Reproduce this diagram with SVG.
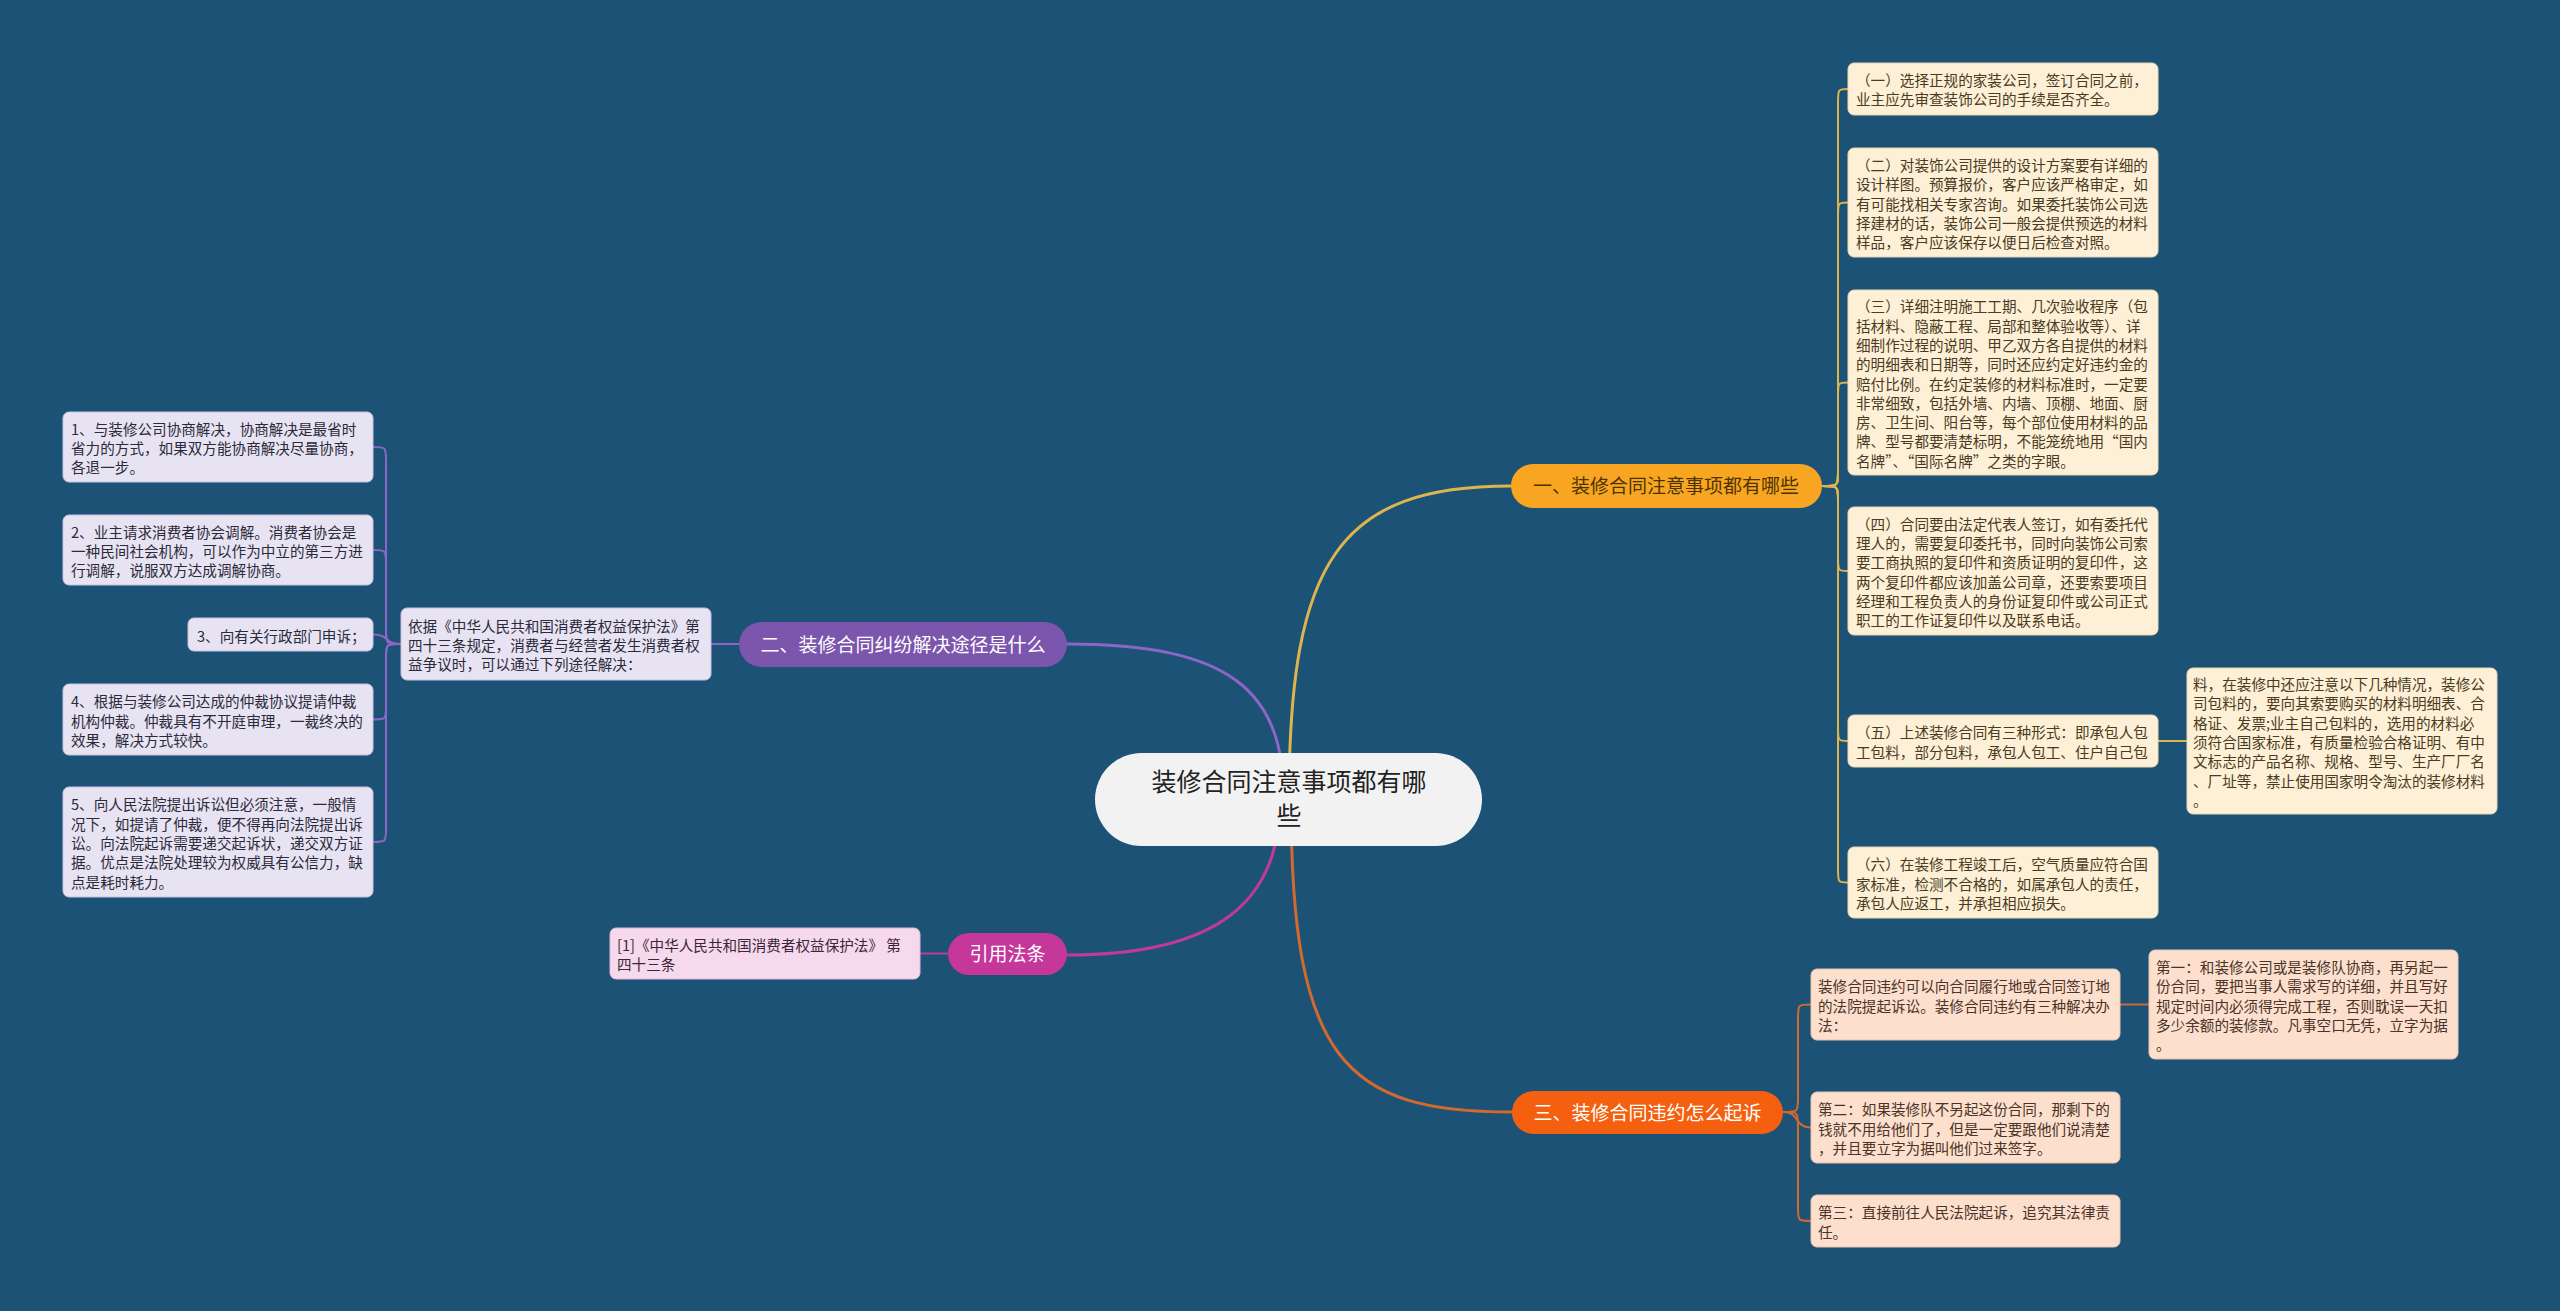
<svg xmlns="http://www.w3.org/2000/svg" width="2560" height="1311" viewBox="0 0 2560 1311">
<style>
text{font-family:"Noto Sans CJK SC","Noto Sans",sans-serif;}
.bt{font-size:14.6px;}
.yb{fill:#fdf0d6;stroke:#e8d6ad;stroke-width:1;}
.yt{fill:#4a3a1f;}
.pb{fill:#fcdfcd;stroke:#ecc3ad;stroke-width:1;}
.pt{fill:#4a3328;}
.lb{fill:#e7e3f3;stroke:#c9c1e0;stroke-width:1;}
.lt{fill:#2b2a3a;}
.kb{fill:#f6d9ec;stroke:#e2b8d4;stroke-width:1;}
.kt{fill:#3b2638;}
.br{font-size:19px;text-anchor:middle;}
.c{fill:none;stroke-linecap:round;}
.cy{stroke:#dcb54f;}
.cp{stroke:#8c66c6;}
.ck{stroke:#c23a98;}
.co{stroke:#d2692f;}
.m{stroke-width:3;}
.s{stroke-width:2;}
</style>
<rect x="0" y="0" width="2560" height="1311" fill="#1b5275"/>

<g id="connectors">
<path class="c cy m" d="M 1289 800 C 1289 560, 1340 486, 1511 486"/>
<path class="c cp m" d="M 1284 800 C 1284 690, 1230 644, 1066 644"/>
<path class="c ck m" d="M 1280 800 C 1280 900, 1220 955, 1067 955"/>
<path class="c co m" d="M 1291 800 C 1291 1060, 1345 1112, 1512 1112"/>

<path class="c cy s" d="M 1822 486 C 1838 486 1838 486 1838 472 L 1838 103 C 1838 89 1838 89 1848 89"/>
<path class="c cy s" d="M 1822 486 C 1838 486 1838 486 1838 472 L 1838 216.5 C 1838 202.5 1838 202.5 1848 202.5"/>
<path class="c cy s" d="M 1822 486 C 1838 486 1838 486 1838 472 L 1838 396.5 C 1838 382.5 1838 382.5 1848 382.5"/>
<path class="c cy s" d="M 1822 486 C 1838 486 1838 486 1838 500 L 1838 557 C 1838 571 1838 571 1848 571"/>
<path class="c cy s" d="M 1822 486 C 1838 486 1838 486 1838 500 L 1838 727 C 1838 741 1838 741 1848 741"/>
<path class="c cy s" d="M 1822 486 C 1838 486 1838 486 1838 500 L 1838 868.5 C 1838 882.5 1838 882.5 1848 882.5"/>
<path class="c cy s" d="M 2158 741 L 2187 741"/>

<path class="c co s" d="M 1783 1112 C 1798 1112 1798 1112 1798 1098 L 1798 1018.5 C 1798 1004.5 1798 1004.5 1811 1004.5"/>
<path class="c co s" d="M 1783 1112 C 1800 1112, 1794 1127.5, 1811 1127.5"/>
<path class="c co s" d="M 1783 1112 C 1798 1112 1798 1112 1798 1126 L 1798 1207 C 1798 1221 1798 1221 1811 1221"/>
<path class="c co s" d="M 2120 1004.5 L 2149 1004.5"/>

<path class="c cp s" d="M 401 644 C 386 644 386 644 386 630 L 386 461 C 386 447 386 447 373 447"/>
<path class="c cp s" d="M 401 644 C 386 644 386 644 386 630 L 386 564 C 386 550 386 550 373 550"/>
<path class="c cp s" d="M 401 644 C 384 644, 390 634.5, 373 634.5"/>
<path class="c cp s" d="M 401 644 C 386 644 386 644 386 658 L 386 705.5 C 386 719.5 386 719.5 373 719.5"/>
<path class="c cp s" d="M 401 644 C 386 644 386 644 386 658 L 386 828 C 386 842 386 842 373 842"/>
<path class="c cp s" d="M 711 644 L 739 644"/>

<path class="c ck s" d="M 920 953.5 L 948 953.5"/>
</g>

<g id="center">
<rect x="1095" y="753" width="387" height="93" rx="46.5" fill="#f2f2f2"/>
<text x="1289" y="791" font-size="25" text-anchor="middle" fill="#222">装修合同注意事项都有哪</text>
<text x="1289" y="825" font-size="25" text-anchor="middle" fill="#222">些</text>
</g>

<g id="branch1">
<rect x="1511" y="464" width="311" height="44" rx="22" fill="#f8a621"/>
<text class="br" x="1666" y="493" fill="#4d3300">一、装修合同注意事项都有哪些</text>
</g>
<g id="branch2">
<rect x="739" y="622" width="328" height="45" rx="22.5" fill="#7c55ad"/>
<text class="br" x="903" y="651.5" fill="#ffffff">二、装修合同纠纷解决途径是什么</text>
</g>
<g id="branch-cite">
<rect x="948" y="933" width="119" height="42" rx="21" fill="#c5389a"/>
<text class="br" x="1007.5" y="961" fill="#ffffff">引用法条</text>
</g>
<g id="branch3">
<rect x="1512" y="1091" width="271" height="43" rx="21.5" fill="#f4600f"/>
<text class="br" x="1647.5" y="1119.5" fill="#ffffff">三、装修合同违约怎么起诉</text>
</g>

<g id="n1-1">
<rect class="yb" x="1848" y="63" width="310" height="52" rx="6"/>
<text class="bt yt" x="1856"><tspan x="1856" y="86">（一）选择正规的家装公司，签订合同之前，</tspan><tspan x="1856" y="105.3">业主应先审查装饰公司的手续是否齐全。</tspan></text>
</g>
<g id="n1-2">
<rect class="yb" x="1848" y="148" width="310" height="109" rx="6"/>
<text class="bt yt"><tspan x="1856" y="171">（二）对装饰公司提供的设计方案要有详细的</tspan><tspan x="1856" y="190.3">设计样图。预算报价，客户应该严格审定，如</tspan><tspan x="1856" y="209.6">有可能找相关专家咨询。如果委托装饰公司选</tspan><tspan x="1856" y="228.9">择建材的话，装饰公司一般会提供预选的材料</tspan><tspan x="1856" y="248.2">样品，客户应该保存以便日后检查对照。</tspan></text>
</g>
<g id="n1-3">
<rect class="yb" x="1848" y="290" width="310" height="185" rx="6"/>
<text class="bt yt"><tspan x="1856" y="312.3">（三）详细注明施工工期、几次验收程序（包</tspan><tspan x="1856" y="331.6">括材料、隐蔽工程、局部和整体验收等）、详</tspan><tspan x="1856" y="350.9">细制作过程的说明、甲乙双方各自提供的材料</tspan><tspan x="1856" y="370.2">的明细表和日期等，同时还应约定好违约金的</tspan><tspan x="1856" y="389.5">赔付比例。在约定装修的材料标准时，一定要</tspan><tspan x="1856" y="408.8">非常细致，包括外墙、内墙、顶棚、地面、厨</tspan><tspan x="1856" y="428.1">房、卫生间、阳台等，每个部位使用材料的品</tspan><tspan x="1856" y="447.4">牌、型号都要清楚标明，不能笼统地用“国内</tspan><tspan x="1856" y="466.7">名牌”、“国际名牌”之类的字眼。</tspan></text>
</g>
<g id="n1-4">
<rect class="yb" x="1848" y="507" width="310" height="128" rx="6"/>
<text class="bt yt"><tspan x="1856" y="529.8">（四）合同要由法定代表人签订，如有委托代</tspan><tspan x="1856" y="549.1">理人的，需要复印委托书，同时向装饰公司索</tspan><tspan x="1856" y="568.4">要工商执照的复印件和资质证明的复印件，这</tspan><tspan x="1856" y="587.7">两个复印件都应该加盖公司章，还要索要项目</tspan><tspan x="1856" y="607">经理和工程负责人的身份证复印件或公司正式</tspan><tspan x="1856" y="626.3">职工的工作证复印件以及联系电话。</tspan></text>
</g>
<g id="n1-5">
<rect class="yb" x="1848" y="715" width="310" height="52" rx="6"/>
<text class="bt yt"><tspan x="1856" y="738.4">（五）上述装修合同有三种形式：即承包人包</tspan><tspan x="1856" y="757.7">工包料，部分包料，承包人包工、住户自己包</tspan></text>
</g>
<g id="n1-5-1">
<rect class="yb" x="2187" y="668" width="310" height="146" rx="6"/>
<text class="bt yt"><tspan x="2193" y="690">料，在装修中还应注意以下几种情况，装修公</tspan><tspan x="2193" y="709.3">司包料的，要向其索要购买的材料明细表、合</tspan><tspan x="2193" y="728.6">格证、发票;业主自己包料的，选用的材料必</tspan><tspan x="2193" y="747.9">须符合国家标准，有质量检验合格证明、有中</tspan><tspan x="2193" y="767.2">文标志的产品名称、规格、型号、生产厂厂名</tspan><tspan x="2193" y="786.5">、厂址等，禁止使用国家明令淘汰的装修材料</tspan><tspan x="2193" y="805.8">。</tspan></text>
</g>
<g id="n1-6">
<rect class="yb" x="1848" y="847" width="310" height="71" rx="6"/>
<text class="bt yt"><tspan x="1856" y="870.2">（六）在装修工程竣工后，空气质量应符合国</tspan><tspan x="1856" y="889.5">家标准，检测不合格的，如属承包人的责任，</tspan><tspan x="1856" y="908.8">承包人应返工，并承担相应损失。</tspan></text>
</g>

<g id="n3-1">
<rect class="pb" x="1811" y="969" width="309" height="71" rx="6"/>
<text class="bt pt"><tspan x="1818" y="992.2">装修合同违约可以向合同履行地或合同签订地</tspan><tspan x="1818" y="1011.5">的法院提起诉讼。装修合同违约有三种解决办</tspan><tspan x="1818" y="1030.8">法：</tspan></text>
</g>
<g id="n3-1-1">
<rect class="pb" x="2149" y="950" width="309" height="109" rx="6"/>
<text class="bt pt"><tspan x="2156" y="973">第一：和装修公司或是装修队协商，再另起一</tspan><tspan x="2156" y="992.3">份合同，要把当事人需求写的详细，并且写好</tspan><tspan x="2156" y="1011.6">规定时间内必须得完成工程，否则耽误一天扣</tspan><tspan x="2156" y="1030.9">多少余额的装修款。凡事空口无凭，立字为据</tspan><tspan x="2156" y="1050.2">。</tspan></text>
</g>
<g id="n3-2">
<rect class="pb" x="1811" y="1092" width="309" height="71" rx="6"/>
<text class="bt pt"><tspan x="1818" y="1115.2">第二：如果装修队不另起这份合同，那剩下的</tspan><tspan x="1818" y="1134.5">钱就不用给他们了，但是一定要跟他们说清楚</tspan><tspan x="1818" y="1153.8">，并且要立字为据叫他们过来签字。</tspan></text>
</g>
<g id="n3-3">
<rect class="pb" x="1811" y="1195" width="309" height="52" rx="6"/>
<text class="bt pt"><tspan x="1818" y="1218.4">第三：直接前往人民法院起诉，追究其法律责</tspan><tspan x="1818" y="1237.7">任。</tspan></text>
</g>

<g id="n2-1">
<rect class="lb" x="401" y="608" width="310" height="72" rx="6"/>
<text class="bt lt"><tspan x="408" y="631.7">依据《中华人民共和国消费者权益保护法》第</tspan><tspan x="408" y="651">四十三条规定，消费者与经营者发生消费者权</tspan><tspan x="408" y="670.3">益争议时，可以通过下列途径解决：</tspan></text>
</g>
<g id="n2-1-1">
<rect class="lb" x="63" y="412" width="310" height="70" rx="6"/>
<text class="bt lt"><tspan x="71" y="434.7">1、与装修公司协商解决，协商解决是最省时</tspan><tspan x="71" y="454">省力的方式，如果双方能协商解决尽量协商，</tspan><tspan x="71" y="473.3">各退一步。</tspan></text>
</g>
<g id="n2-1-2">
<rect class="lb" x="63" y="515" width="310" height="70" rx="6"/>
<text class="bt lt"><tspan x="71" y="537.7">2、业主请求消费者协会调解。消费者协会是</tspan><tspan x="71" y="557">一种民间社会机构，可以作为中立的第三方进</tspan><tspan x="71" y="576.3">行调解，说服双方达成调解协商。</tspan></text>
</g>
<g id="n2-1-3">
<rect class="lb" x="188" y="618" width="185" height="33" rx="6"/>
<text class="bt lt" x="197" y="641.5">3、向有关行政部门申诉；</text>
</g>
<g id="n2-1-4">
<rect class="lb" x="63" y="684" width="310" height="71" rx="6"/>
<text class="bt lt"><tspan x="71" y="707.2">4、根据与装修公司达成的仲裁协议提请仲裁</tspan><tspan x="71" y="726.5">机构仲裁。仲裁具有不开庭审理，一裁终决的</tspan><tspan x="71" y="745.8">效果，解决方式较快。</tspan></text>
</g>
<g id="n2-1-5">
<rect class="lb" x="63" y="787" width="310" height="110" rx="6"/>
<text class="bt lt"><tspan x="71" y="810.4">5、向人民法院提出诉讼但必须注意，一般情</tspan><tspan x="71" y="829.7">况下，如提请了仲裁，便不得再向法院提出诉</tspan><tspan x="71" y="849">讼。向法院起诉需要递交起诉状，递交双方证</tspan><tspan x="71" y="868.3">据。优点是法院处理较为权威具有公信力，缺</tspan><tspan x="71" y="887.6">点是耗时耗力。</tspan></text>
</g>

<g id="cite-1">
<rect class="kb" x="610" y="928" width="310" height="51" rx="6"/>
<text class="bt kt"><tspan x="617" y="950.8">[1]《中华人民共和国消费者权益保护法》 第</tspan><tspan x="617" y="970.1">四十三条</tspan></text>
</g>
</svg>
